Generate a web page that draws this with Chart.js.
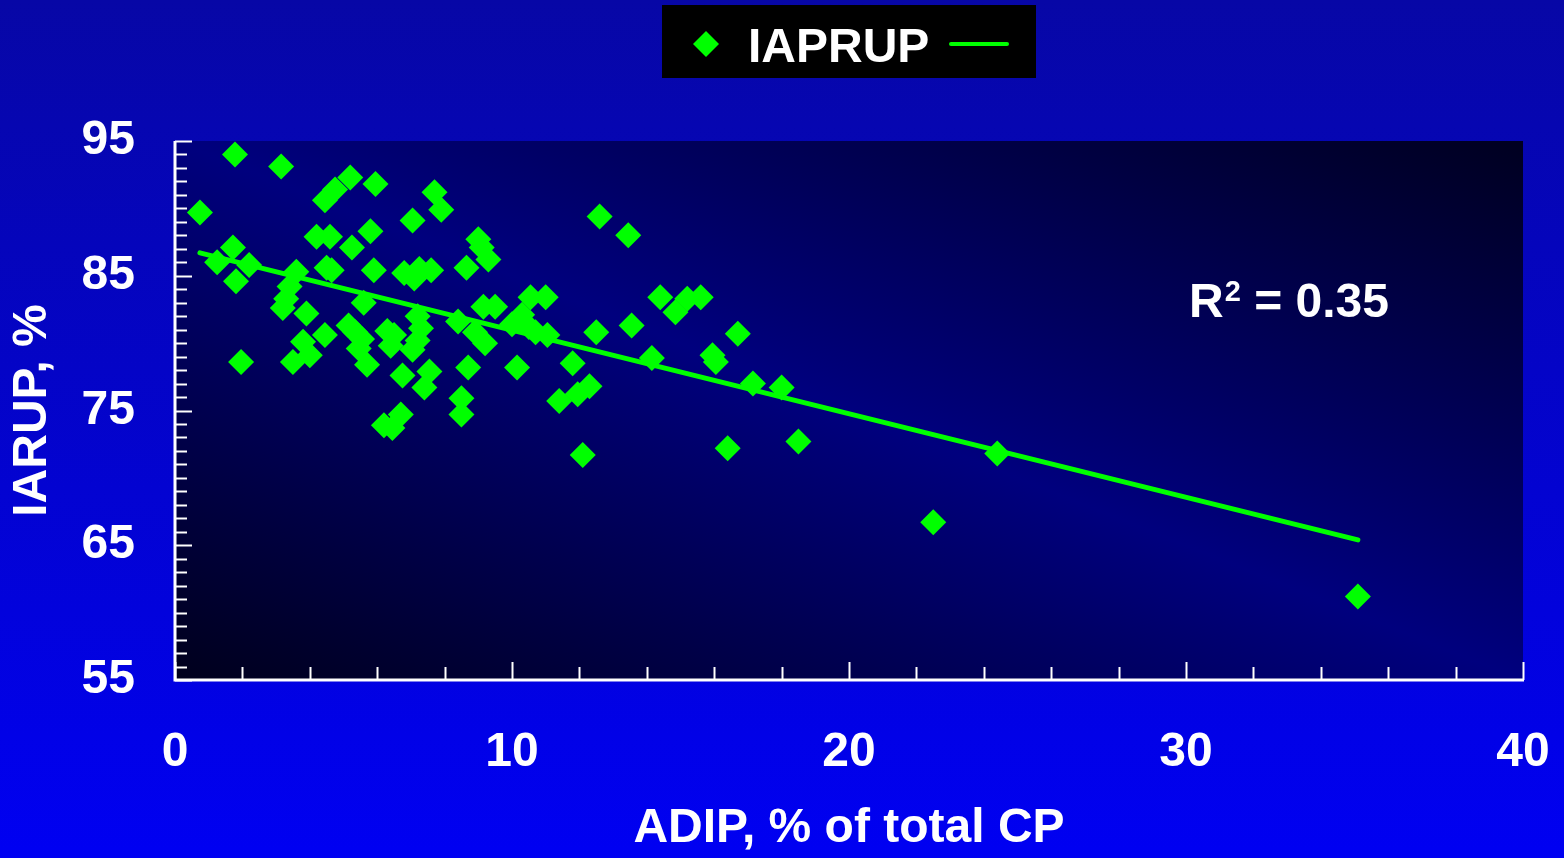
<!DOCTYPE html>
<html>
<head>
<meta charset="utf-8">
<script src="https://cdn.jsdelivr.net/npm/chart.js@4/dist/chart.umd.min.js"></script>
<style>
  html, body { margin: 0; padding: 0; }
  body { width: 1564px; height: 858px; background: linear-gradient(#0707a6, #0000f2); overflow: hidden; }
  canvas { display: block; }
</style>
</head>
<body>
<canvas id="adipChart" width="1564" height="858"></canvas>
<script>
// ADIP (% of total CP) vs IAPRUP (%) observations
const adipX = [
  0.74, 1.25, 1.78, 1.72, 1.81, 1.96, 2.2, 3.15, 3.2, 3.3,
  3.4, 3.5, 3.6, 3.8, 3.9, 4.0, 4.2, 4.45, 4.45, 4.5,
  4.6, 4.65, 4.75, 5.2, 5.15, 5.25, 5.35, 5.45, 5.6, 5.7,
  5.8, 5.9, 5.95, 6.2, 6.4, 6.45, 6.5, 6.7, 6.75, 6.8,
  7.05, 7.05, 7.1, 7.2, 7.25, 7.3, 7.4, 7.55, 7.6, 7.7,
  7.9, 8.4, 8.5, 8.5, 8.65, 8.7, 8.9, 9.0, 9.1, 9.15,
  9.2, 9.3, 9.5, 10.0, 10.15, 10.3, 10.5, 10.55, 10.7, 11.0,
  11.05, 11.4, 11.8, 11.95, 12.1, 12.3, 12.5, 12.6, 13.45, 13.55,
  14.15, 14.4, 14.85, 15.2, 15.6, 15.95, 16.05, 16.4, 16.7, 17.15,
  18.0, 18.5, 22.5, 24.4, 35.1, 5.55, 6.3, 7.2
];
const iaprupY = [
  89.7, 86.0, 94.0, 87.1, 84.6, 78.6, 85.8, 93.1, 82.6, 83.3,
  84.2, 78.6, 85.3, 80.1, 82.2, 79.1, 87.9, 90.6, 80.6, 85.6,
  87.9, 85.4, 91.4, 92.3, 81.3, 87.1, 80.8, 79.6, 83.0, 78.4,
  88.3, 85.4, 91.8, 73.9, 79.8, 73.7, 80.6, 74.7, 77.6, 85.2,
  89.1, 79.5, 84.8, 80.2, 85.5, 81.1, 76.7, 77.9, 85.4, 91.2,
  89.9, 81.6, 75.9, 74.7, 85.6, 78.2, 80.8, 87.7, 87.1, 82.7,
  80.0, 86.2, 82.7, 81.4, 78.2, 82.1, 81.2, 83.4, 80.8, 83.4,
  80.6, 75.7, 78.5, 76.2, 71.7, 76.8, 80.8, 89.4, 88.0, 81.3,
  78.9, 83.4, 82.3, 83.3, 83.4, 79.1, 78.6, 72.2, 80.7, 77.0,
  76.7, 72.7, 66.7, 71.8, 61.2, 80.3, 80.9, 82.0
];

// regression line end points as drawn
const trendX = [0.74, 35.1];
const trendY = [86.7, 65.4];

const xTickLabels = [0, 10, 20, 30, 40];
const yTickLabels = [55, 65, 75, 85, 95];
const seriesName = 'IAPRUP';
const rSquaredText = '0.35';

const scatterData = adipX.map((x, i) => ({ x: x, y: iaprupY[i] }));
const trendData = trendX.map((x, i) => ({ x: x, y: trendY[i] }));

const green = '#00ff00';
const boldFont = 'bold 48px "Liberation Sans", Arial, sans-serif';

// plot background, axis lines and inward tick marks, legend box, R2 label
const decorPlugin = {
  id: 'decor',
  beforeDatasetsDraw(chart) {
    const { ctx, chartArea: a, scales } = chart;
    const w = a.right - a.left, h = a.bottom - a.top;

    ctx.save();
    ctx.translate(a.left, a.top);
    ctx.scale(w, h);
    const g = ctx.createLinearGradient(0, 1, 1, 0);
    g.addColorStop(0, '#00001c');
    g.addColorStop(0.5, '#00007e');
    g.addColorStop(1, '#000020');
    ctx.fillStyle = g;
    ctx.fillRect(0, 0, 1, 1);
    ctx.restore();

    ctx.save();
    ctx.strokeStyle = '#ffffff';
    ctx.lineCap = 'butt';

    // y ticks every 1, longer at labelled values
    ctx.lineWidth = 2;
    for (let v = 55; v <= 95; v++) {
      const py = Math.round(scales.y.getPixelForValue(v)) + 0.5;
      const len = yTickLabels.includes(v) ? 17 : 12;
      ctx.beginPath();
      ctx.moveTo(a.left, py);
      ctx.lineTo(a.left + len, py);
      ctx.stroke();
    }
    // x ticks every 2, longer at labelled values
    for (let v = 0; v <= 40; v += 2) {
      const px = Math.round(scales.x.getPixelForValue(v)) + 0.5;
      const len = xTickLabels.includes(v) ? 18 : 13;
      ctx.beginPath();
      ctx.moveTo(px, a.bottom);
      ctx.lineTo(px, a.bottom - len);
      ctx.stroke();
    }
    // axis lines
    ctx.lineWidth = 3;
    ctx.beginPath();
    ctx.moveTo(a.left, a.top);
    ctx.lineTo(a.left, a.bottom);
    ctx.lineTo(a.right + 1, a.bottom);
    ctx.stroke();
    ctx.restore();
  },
  afterDraw(chart) {
    const { ctx } = chart;
    ctx.save();
    // legend box
    ctx.fillStyle = '#000000';
    ctx.fillRect(662, 5, 374, 73);
    ctx.fillStyle = green;
    ctx.beginPath();
    ctx.moveTo(706 - 13, 44);
    ctx.lineTo(706, 44 - 13);
    ctx.lineTo(706 + 13, 44);
    ctx.lineTo(706, 44 + 13);
    ctx.closePath();
    ctx.fill();
    ctx.fillStyle = '#ffffff';
    ctx.font = boldFont;
    ctx.textBaseline = 'alphabetic';
    ctx.textAlign = 'left';
    ctx.fillText(seriesName, 748, 62);
    ctx.strokeStyle = green;
    ctx.lineWidth = 4;
    ctx.lineCap = 'round';
    ctx.beginPath();
    ctx.moveTo(951, 44);
    ctx.lineTo(1007, 44);
    ctx.stroke();

    // R squared
    let x = 1189;
    const base = 317;
    ctx.fillStyle = '#ffffff';
    ctx.font = boldFont;
    ctx.fillText('R', x, base);
    x += ctx.measureText('R').width;
    ctx.font = 'bold 29px "Liberation Sans", Arial, sans-serif';
    ctx.fillText('2', x + 1, base - 16);
    x += ctx.measureText('2').width + 1;
    ctx.font = boldFont;
    ctx.fillText(' = ' + rSquaredText, x, base);
    ctx.restore();
  }
};

const ctx = document.getElementById('adipChart').getContext('2d');
const adipChart = new Chart(ctx, {
  type: 'scatter',
  data: {
    datasets: [
      {
        label: seriesName,
        data: scatterData,
        pointStyle: 'rectRot',
        pointRadius: 13,
        pointHoverRadius: 13,
        backgroundColor: green,
        borderColor: green,
        borderWidth: 0
      },
      {
        label: 'trend',
        type: 'line',
        data: trendData,
        borderColor: green,
        borderWidth: 5,
        borderCapStyle: 'round',
        pointRadius: 0,
        fill: false,
        tension: 0
      }
    ]
  },
  options: {
    responsive: false,
    animation: false,
    events: [],
    layout: { padding: { top: 141, right: 41, left: 0, bottom: 0 } },
    plugins: {
      legend: { display: false },
      tooltip: { enabled: false }
    },
    scales: {
      x: {
        type: 'linear',
        min: 0,
        max: 40,
        border: { display: false },
        grid: { display: false, drawTicks: false },
        ticks: {
          stepSize: 10,
          color: '#ffffff',
          padding: 44,
          font: { family: '"Liberation Sans", Arial, sans-serif', size: 48, weight: 'bold' },
          maxRotation: 0
        },
        title: {
          display: true,
          text: 'ADIP, % of total CP',
          color: '#ffffff',
          padding: 0,
          font: { family: '"Liberation Sans", Arial, sans-serif', size: 48, weight: 'bold' }
        },
        afterFit(scale) {
          scale.height = 178;
          scale.paddingLeft = 0;
          scale.paddingRight = 0;
        }
      },
      y: {
        type: 'linear',
        min: 55,
        max: 95,
        border: { display: false },
        grid: { display: false, drawTicks: false },
        ticks: {
          stepSize: 10,
          color: '#ffffff',
          padding: 40,
          font: { family: '"Liberation Sans", Arial, sans-serif', size: 48, weight: 'bold' }
        },
        title: {
          display: true,
          text: 'IARUP, %',
          color: '#ffffff',
          padding: 4,
          font: { family: '"Liberation Sans", Arial, sans-serif', size: 48, weight: 'bold' }
        },
        afterFit(scale) {
          scale.width = 175;
          scale.paddingTop = 0;
          scale.paddingBottom = 0;
        }
      }
    }
  },
  plugins: [decorPlugin]
});
</script>
</body>
</html>
